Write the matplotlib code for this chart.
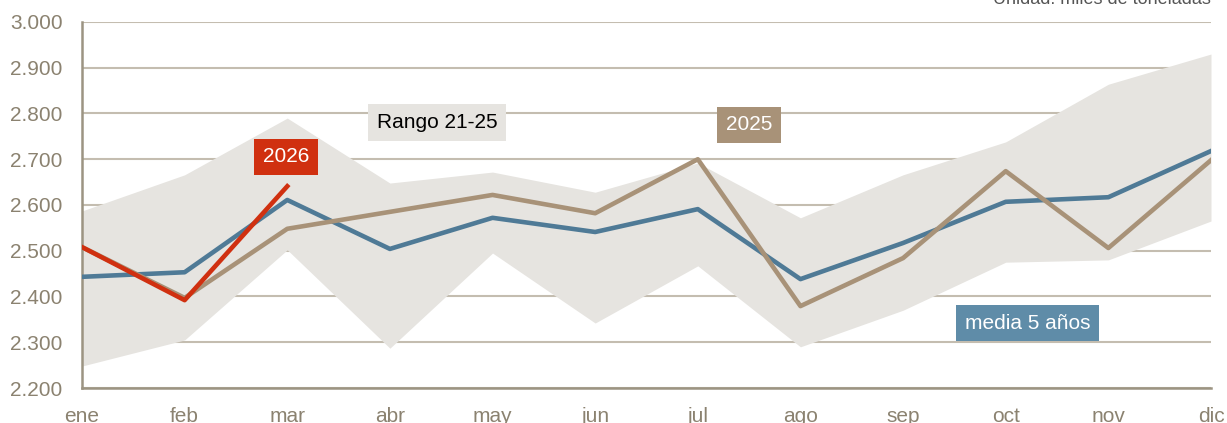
import matplotlib
matplotlib.use("Agg")
import matplotlib.pyplot as plt

months = ["ene", "feb", "mar", "abr", "may", "jun", "jul", "ago", "sep", "oct", "nov", "dic"]
media5 = [2443, 2453, 2611, 2504, 2572, 2541, 2591, 2438, 2517, 2607, 2617, 2718]
y2025 = [2508, 2397, 2548, 2585, 2622, 2582, 2700, 2379, 2484, 2674, 2506, 2698]
y2026 = [2508, 2392, 2641]
rango_max = [2587, 2666, 2790, 2648, 2672, 2628, 2692, 2572, 2666, 2738, 2864, 2930]
rango_min = [2248, 2305, 2502, 2287, 2495, 2342, 2467, 2290, 2370, 2475, 2480, 2565]
yticks = [2200, 2300, 2400, 2500, 2600, 2700, 2800, 2900, 3000]

plt.rcParams['font.family'] = ['Liberation Sans', 'DejaVu Sans']

fig = plt.figure(figsize=(12.27, 4.23), dpi=100)
W, H = 1227, 423
ax = fig.add_axes([82 / W, 1 - 388 / H, (1211 - 82) / W, (388 - 22) / H])

x = list(range(12))
ax.fill_between(x, rango_min, rango_max, color="#e6e4e0", lw=0, zorder=1)
ax.plot(x, media5, color="#4f7a96", lw=3.3, zorder=3)
ax.plot(x, y2025, color="#a89278", lw=3.3, zorder=4)
ax.plot(x[:3], y2026, color="#d03010", lw=3.3, zorder=5)

ax.set_xlim(0, 11)
ax.set_ylim(2200, 3000)
ax.set_yticks(yticks)
ax.set_yticklabels([f"{v/1000:.3f}" for v in yticks])
ax.set_xticks(x)
ax.set_xticklabels(months)
ax.grid(axis="y", color="#c4bdb0", lw=1.5, zorder=0)
ax.set_axisbelow(True)
for s in ["top", "right"]:
    ax.spines[s].set_visible(False)
for s in ["left", "bottom"]:
    ax.spines[s].set_color("#9c9482")
    ax.spines[s].set_linewidth(1.8)
ax.tick_params(axis="both", length=0, labelsize=15, labelcolor="#8b8270")
ax.tick_params(axis="y", pad=14)
ax.tick_params(axis="x", pad=14)

def label(xv, yv, txt, bg, fg):
    ax.text(xv, yv, txt, color=fg, fontsize=15, ha="center", va="center",
            bbox=dict(boxstyle="square,pad=0.42", fc=bg, ec="none"), zorder=6)

label(3.46, 2780, "Rango 21-25", "#e6e4e0", "black")
label(1.99, 2705, "2026", "#d03010", "white")
label(6.50, 2775, "2025", "#a89278", "white")
label(9.21, 2342, "media 5 años", "#5f8ca8", "white")

fig.text(1211 / W, 1 - (-1) / H, "Unidad: miles de toneladas", ha="right", va="center",
         fontsize=13, color="#555555")

fig.savefig("out.png", dpi=100)
